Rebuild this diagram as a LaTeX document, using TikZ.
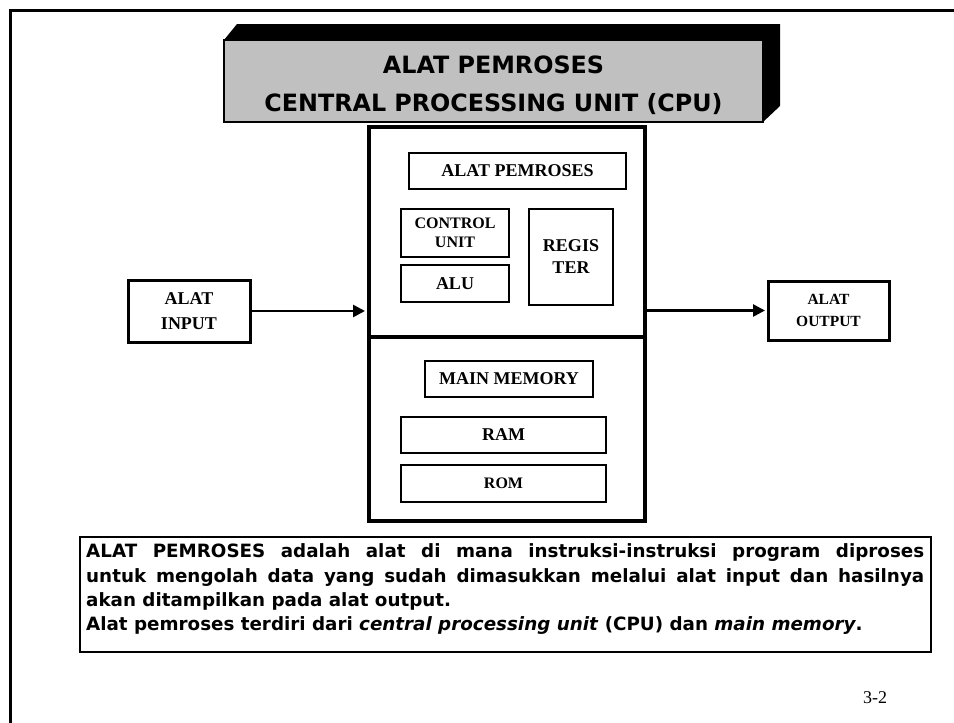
\documentclass[tikz,border=0pt]{standalone}
\usepackage{fontspec}
\setmainfont{Liberation Serif}
\newfontfamily\tah{DejaVu Sans}
\usetikzlibrary{arrows.meta}
\definecolor{titlegray}{RGB}{192,192,192}
\begin{document}
\begin{tikzpicture}[x=1pt,y=-1pt,
  sbox/.style={draw, line width=1.3pt, inner sep=0pt, font=\bfseries\fontsize{18}{20}\selectfont, align=center},
  tbox/.style={draw, line width=3pt, inner sep=0pt, font=\bfseries\fontsize{18}{25}\selectfont, align=center},
  bigbox/.style={draw, line width=4pt, inner sep=0pt},
  arr/.style={line width=2.6pt, -{Triangle[length=12pt,width=12pt]}},
  tf/.style={inner sep=0pt, anchor=base west, font=\tah\bfseries\fontsize{18.3}{24}\selectfont},
  ttl/.style={inner sep=0pt, anchor=base, font=\tah\bfseries\fontsize{23.8}{28}\selectfont}]
\useasboundingbox (0,0) rectangle (954,723);
% frame
\draw[line width=3pt] (10.5,740) -- (10.5,10.5) -- (970,10.5);
% title block
\fill (224,40) -- (237,24) -- (780,24) -- (780,106) -- (763,122) -- (763,40) -- cycle;
\node[draw, fill=titlegray, line width=1.5pt, inner sep=0pt, minimum width=539pt, minimum height=82pt] (title) at (493.5,81) {};
\node[ttl] (tl1) at (493.5,73) {ALAT PEMROSES};
\node[ttl] (tl2) at (493.5,111) {CENTRAL PROCESSING UNIT (CPU)};
% central box
\node[bigbox, minimum width=276pt, minimum height=210pt] (proc) at (507,232) {};
\node[bigbox, minimum width=276pt, minimum height=184pt] (mem) at (507,429) {};
% inner boxes
\node[sbox, minimum width=217pt, minimum height=36pt] (ap) at (517.5,171) {ALAT PEMROSES};
\node[sbox, minimum width=108pt, minimum height=48pt, font=\bfseries\fontsize{16}{19}\selectfont] (cu) at (455,233) {CONTROL\\UNIT};
\node[sbox, minimum width=108pt, minimum height=37pt] (alu) at (455,283.5) {ALU};
\node[sbox, minimum width=84pt, minimum height=96pt, font=\bfseries\fontsize{18}{22}\selectfont] (reg) at (571,257) {REGIS\\TER};
\node[sbox, minimum width=168pt, minimum height=36pt] (mm) at (509,379) {MAIN MEMORY};
\node[sbox, minimum width=205pt, minimum height=36pt] (ram) at (503.5,435) {RAM};
\node[sbox, minimum width=205pt, minimum height=37pt, font=\bfseries\fontsize{16}{18}\selectfont] (rom) at (503.5,483.5) {ROM};
% input / output
\node[tbox, minimum width=122pt, minimum height=62pt] (in) at (189,311) {ALAT\\INPUT};
\node[tbox, minimum width=121pt, minimum height=59pt, font=\bfseries\fontsize{15.5}{22}\selectfont] (out) at (828.5,310.5) {ALAT\\OUTPUT};
\draw[arr, shorten >=2pt] (in.east) -- (in.east -| proc.west);
\draw[arr, shorten >=1.5pt] (out.west -| proc.east) -- (out.west);
% description
\node[draw, line width=1.5pt, inner sep=0pt, minimum width=851pt, minimum height=115pt] (desc) at (505.5,594.5) {};
\node[tf] (t1) at (86,557) {\makebox[838pt][s]{ALAT PEMROSES adalah alat di mana instruksi-instruksi program diproses}};
\node[tf] (t2) at (86,582) {\makebox[838pt][s]{untuk mengolah data yang sudah dimasukkan melalui alat input dan hasilnya}};
\node[tf] (t3) at (86,606) {akan ditampilkan pada alat output.};
\node[tf] (t4) at (86,630) {Alat pemroses terdiri dari \textit{central processing unit} (CPU) dan \textit{main memory}.};
% page number
\node[inner sep=0pt, font=\fontsize{18}{20}\selectfont] (pg) at (875,698) {3-2};
\end{tikzpicture}
\end{document}
